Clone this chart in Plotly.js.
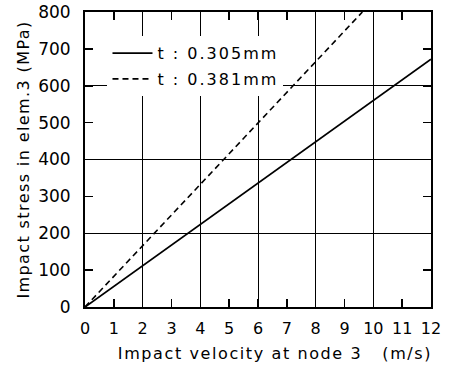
<!DOCTYPE html>
<html>
<head>
<meta charset="utf-8">
<script src="https://cdn.plot.ly/plotly-3.0.1.min.js"></script>
<style>
html,body{margin:0;padding:0;background:#fff;}
.xtitle{letter-spacing:1.6px;transform:translate(17px,0px);}
.ytitle{letter-spacing:1.4px;}
.legendtext{letter-spacing:2px;}
</style>
</head>
<body>
<div id="chart" style="width:450px;height:367px;"></div>
<script>
var seriesNames = ["t\u00a0:\u00a00.305mm", "t\u00a0:\u00a00.381mm"];
var velocityThin = [0, 12];
var stressThin = [0, 672];
var velocityThick = [0, 9.62];
var stressThick = [0, 800];
var xTicks = [0,1,2,3,4,5,6,7,8,9,10,11,12];
var yTicks = [0,100,200,300,400,500,600,700,800];
var xGrid = [2,4,6,8,10];
var yGrid = [200,400,600];

var font = "DejaVu Sans, sans-serif";
var traces = [
  {x: velocityThin, y: stressThin, mode: "lines", name: seriesNames[0], legendgroup: "a",
   line: {color: "#000", width: 1.8}},
  {x: velocityThick, y: stressThick, mode: "lines", name: seriesNames[1], legendgroup: "b",
   line: {color: "#000", width: 1.6, dash: "6px,4px"}}
];
var layout = {
  width: 450, height: 367,
  margin: {l: 85, r: 19, t: 12, b: 60},
  paper_bgcolor: "#fff", plot_bgcolor: "#fff",
  font: {family: font, size: 16, color: "#000"},
  showlegend: true,
  legend: {x: 0.065, y: 0.918, xanchor: "left", yanchor: "top", itemwidth: 40,
           bgcolor: "#fff", borderwidth: 0, font: {family: font, size: 16, color: "#000"},
           tracegroupgap: 2},
  xaxis: {
    range: [0, 12], tickvals: xTicks, ticktext: xTicks.map(String),
    ticks: "inside", ticklen: 8, tickwidth: 1.5, tickcolor: "#000",
    showline: true, linecolor: "#000", linewidth: 2, mirror: "ticks",
    showgrid: false, zeroline: false,
    ticklabelstandoff: 6,
    tickfont: {family: font, size: 16, color: "#000"},
    title: {text: "Impact velocity at node\u00a03\u00a0\u00a0\u00a0(m/s)", font: {family: font, size: 16, color: "#000"}, standoff: 11}
  },
  yaxis: {
    range: [0, 800], tickvals: yTicks, ticktext: yTicks.map(String),
    ticks: "inside", ticklen: 8, tickwidth: 1.5, tickcolor: "#000",
    showline: true, linecolor: "#000", linewidth: 2, mirror: "ticks",
    showgrid: false, zeroline: false,
    ticklabelstandoff: 9,
    tickfont: {family: font, size: 17, color: "#000"},
    title: {text: "Impact stress in elem.3 (MPa)", font: {family: font, size: 16, color: "#000"}, standoff: 5}
  },
  xaxis2: {overlaying: "x", range: [0, 12], tickvals: xGrid, showgrid: true,
    gridcolor: "#000", gridwidth: 1, showticklabels: false, ticks: "", zeroline: false, layer: "below traces"},
  yaxis2: {overlaying: "y", range: [0, 800], tickvals: yGrid, showgrid: true,
    gridcolor: "#000", gridwidth: 1, showticklabels: false, ticks: "", zeroline: false, layer: "below traces"}
};
traces.push({x: [0], y: [0], xaxis: "x2", yaxis: "y2", mode: "markers", marker: {opacity: 0}, showlegend: false, hoverinfo: "skip"});
Plotly.newPlot("chart", traces, layout, {staticPlot: true, displayModeBar: false});
</script>
</body>
</html>
